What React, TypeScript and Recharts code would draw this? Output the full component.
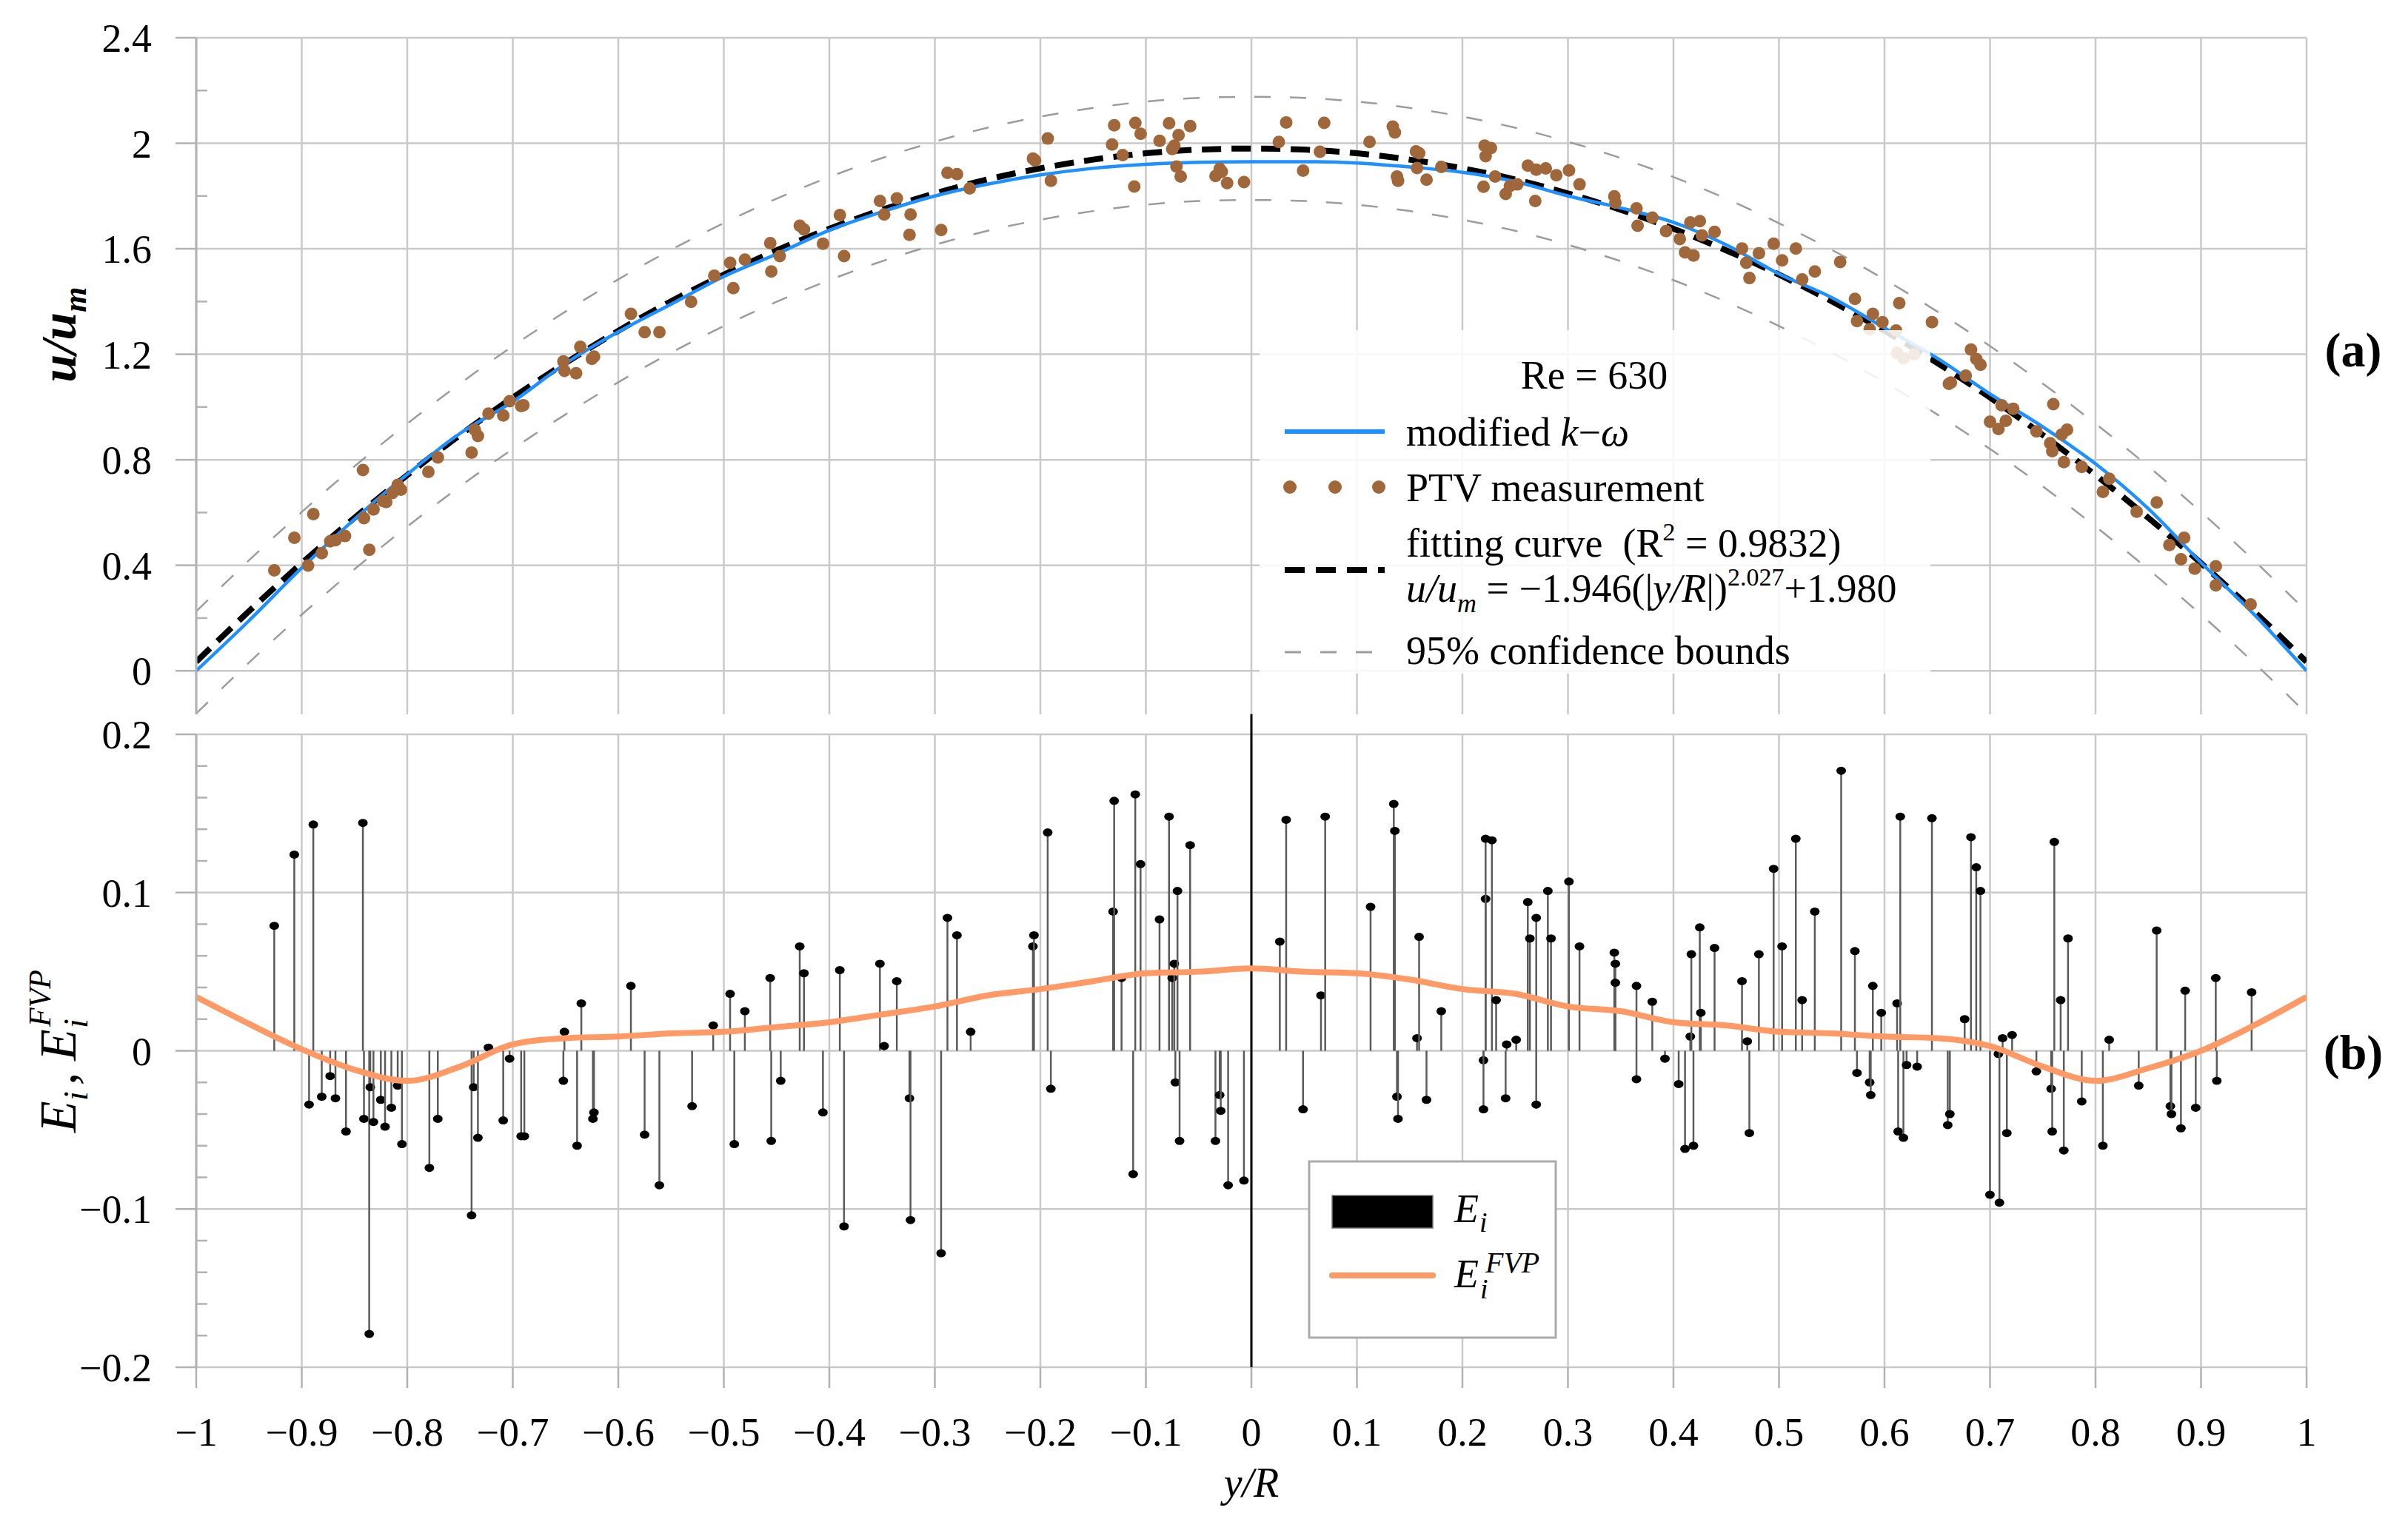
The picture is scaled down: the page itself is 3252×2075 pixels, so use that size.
import React from 'react';
import { ComposedChart, Line, Scatter, Bar, XAxis, YAxis, CartesianGrid, ReferenceLine } from 'recharts';

// page / font constants
const W = 3252;
const H = 2075;
const FONT = '"Liberation Serif", "Times New Roman", serif';
const GRID = '#c9c9c9';
const AXIS = '#b2b2b2';
const BLUE = '#1E90FF';
const BROWN = '#A0683A';
const ORANGE = '#FF9A66';

// x ticks shared by both panels
const xTicks = [-1, -0.9, -0.8, -0.7, -0.6, -0.5, -0.4, -0.3, -0.2, -0.1, 0, 0.1, 0.2, 0.3, 0.4, 0.5, 0.6, 0.7, 0.8, 0.9, 1];
const xTickLabels = ['−1', '−0.9', '−0.8', '−0.7', '−0.6', '−0.5', '−0.4', '−0.3', '−0.2', '−0.1', '0', '0.1', '0.2', '0.3', '0.4', '0.5', '0.6', '0.7', '0.8', '0.9', '1'];

// (a) y ticks
const topYTicks = [0, 0.2, 0.4, 0.6, 0.8, 1, 1.2, 1.4, 1.6, 1.8, 2, 2.2, 2.4];
const topYMajor = [0, 0.4, 0.8, 1.2, 1.6, 2, 2.4];
const topYLabels = ['0', '0.4', '0.8', '1.2', '1.6', '2', '2.4'];

// (b) y ticks
const botYTicks = [-0.2, -0.18, -0.16, -0.14, -0.12, -0.1, -0.08, -0.06, -0.04, -0.02, 0, 0.02, 0.04, 0.06, 0.08, 0.1, 0.12, 0.14, 0.16, 0.18, 0.2];
const botYMajor = [-0.2, -0.1, 0, 0.1, 0.2];
const botYLabels = ['−0.2', '−0.1', '0', '0.1', '0.2'];

// profile positions y/R
const profileX = [-1, -0.95, -0.9, -0.85, -0.8, -0.75, -0.7, -0.65, -0.6, -0.55, -0.5, -0.45, -0.4, -0.35, -0.3, -0.25, -0.2, -0.15, -0.1, -0.05, 0,
  0.05, 0.1, 0.15, 0.2, 0.25, 0.3, 0.35, 0.4, 0.45, 0.5, 0.55, 0.6, 0.65, 0.7, 0.75, 0.8, 0.85, 0.9, 0.95, 1];

// modified k-omega
const kOmega = [0, 0.19, 0.39, 0.575, 0.745, 0.9, 1.02, 1.165, 1.285, 1.39, 1.495, 1.58, 1.67, 1.74, 1.8, 1.845, 1.88, 1.905, 1.92, 1.928, 1.93,
  1.93, 1.925, 1.91, 1.89, 1.855, 1.8, 1.755, 1.7, 1.615, 1.505, 1.415, 1.3, 1.185, 1.05, 0.925, 0.785, 0.615, 0.41, 0.215, 0];

// fitting curve
const fitCurve = [0.034, 0.226, 0.408, 0.58, 0.742, 0.894, 1.036, 1.167, 1.289, 1.401, 1.502, 1.594, 1.676, 1.748, 1.81, 1.863, 1.905, 1.938, 1.962, 1.976, 1.98,
  1.976, 1.962, 1.938, 1.905, 1.863, 1.81, 1.748, 1.676, 1.594, 1.502, 1.401, 1.289, 1.167, 1.036, 0.894, 0.742, 0.58, 0.408, 0.226, 0.034];

// 95% confidence bounds
const upperBound = [0.225, 0.419, 0.602, 0.775, 0.937, 1.089, 1.231, 1.362, 1.484, 1.596, 1.697, 1.79, 1.872, 1.944, 2.006, 2.059, 2.101, 2.134, 2.158, 2.172, 2.176,
  2.172, 2.158, 2.134, 2.101, 2.059, 2.006, 1.944, 1.872, 1.79, 1.697, 1.596, 1.484, 1.362, 1.231, 1.089, 0.937, 0.775, 0.602, 0.419, 0.225];
const lowerBound = [-0.162, 0.031, 0.213, 0.385, 0.547, 0.699, 0.841, 0.972, 1.094, 1.206, 1.307, 1.399, 1.481, 1.553, 1.615, 1.668, 1.71, 1.743, 1.767, 1.781, 1.785,
  1.781, 1.767, 1.743, 1.71, 1.668, 1.615, 1.553, 1.481, 1.399, 1.307, 1.206, 1.094, 0.972, 0.841, 0.699, 0.547, 0.385, 0.213, 0.031, -0.162];

// E_i^FVP
const fvpCurve = [0.034, 0.017, 0.001, -0.012, -0.019, -0.01, 0.004, 0.008, 0.009, 0.011, 0.012, 0.015, 0.018, 0.023, 0.028, 0.035, 0.039, 0.044, 0.049, 0.05, 0.052,
  0.05, 0.049, 0.045, 0.039, 0.036, 0.028, 0.025, 0.018, 0.016, 0.012, 0.011, 0.009, 0.008, 0.003, -0.01, -0.019, -0.011, 0, 0.016, 0.034];

// PTV measurement [y/R, u/um]
const ptv: [number, number][] = [
  [-0.926, 0.381], [-0.907, 0.504], [-0.894, 0.399], [-0.889, 0.594], [-0.881, 0.446], [-0.873, 0.491], [-0.868, 0.495], [-0.859, 0.511],
  [-0.842, 0.761], [-0.841, 0.579], [-0.836, 0.459], [-0.832, 0.612], [-0.823, 0.644], [-0.82, 0.64], [-0.814, 0.674], [-0.809, 0.705],
  [-0.806, 0.687], [-0.78, 0.754], [-0.771, 0.809], [-0.739, 0.827], [-0.736, 0.914], [-0.733, 0.89], [-0.723, 0.975], [-0.709, 0.968],
  [-0.703, 1.022], [-0.692, 1.004], [-0.69, 1.007], [-0.652, 1.173], [-0.651, 1.137], [-0.64, 1.128], [-0.636, 1.228], [-0.625, 1.183],
  [-0.623, 1.191], [-0.588, 1.353], [-0.575, 1.284], [-0.561, 1.284], [-0.531, 1.399], [-0.509, 1.498], [-0.494, 1.547], [-0.491, 1.451],
  [-0.48, 1.559], [-0.456, 1.621], [-0.455, 1.514], [-0.447, 1.572], [-0.428, 1.687], [-0.424, 1.673], [-0.406, 1.619], [-0.39, 1.728],
  [-0.386, 1.572], [-0.352, 1.781], [-0.348, 1.73], [-0.336, 1.791], [-0.323, 1.73], [-0.324, 1.653], [-0.294, 1.671], [-0.288, 1.888],
  [-0.279, 1.883], [-0.267, 1.829], [-0.207, 1.942], [-0.205, 1.935], [-0.193, 2.018], [-0.19, 1.858], [-0.132, 1.995], [-0.13, 2.068],
  [-0.122, 1.955], [-0.111, 1.836], [-0.11, 2.077], [-0.105, 2.036], [-0.087, 2.009], [-0.078, 2.076], [-0.075, 1.978], [-0.073, 1.991],
  [-0.071, 1.912], [-0.069, 2.031], [-0.067, 1.874], [-0.058, 2.065], [-0.034, 1.876], [-0.03, 1.903], [-0.028, 1.892], [-0.023, 1.849],
  [-0.007, 1.853], [0.026, 2.005], [0.033, 2.079], [0.049, 1.896], [0.065, 1.968], [0.069, 2.077], [0.112, 2.005], [0.134, 2.063],
  [0.136, 2.041], [0.138, 1.874], [0.139, 1.858], [0.156, 1.969], [0.159, 1.962], [0.157, 1.906], [0.166, 1.862], [0.18, 1.91],
  [0.22, 1.835], [0.221, 1.991], [0.222, 1.951], [0.227, 1.982], [0.231, 1.874], [0.241, 1.808], [0.245, 1.838], [0.252, 1.844],
  [0.262, 1.915], [0.269, 1.781], [0.27, 1.9], [0.279, 1.905], [0.289, 1.879], [0.301, 1.897], [0.311, 1.844], [0.344, 1.799],
  [0.345, 1.775], [0.365, 1.753], [0.366, 1.687], [0.38, 1.718], [0.393, 1.667], [0.406, 1.637], [0.411, 1.586], [0.416, 1.7],
  [0.419, 1.574], [0.425, 1.705], [0.427, 1.651], [0.439, 1.664], [0.465, 1.601], [0.469, 1.547], [0.472, 1.489], [0.481, 1.583],
  [0.495, 1.619], [0.503, 1.556], [0.516, 1.601], [0.522, 1.484], [0.534, 1.514], [0.558, 1.55], [0.572, 1.41], [0.574, 1.326],
  [0.586, 1.295], [0.589, 1.353], [0.598, 1.322], [0.611, 1.29], [0.614, 1.394], [0.612, 1.205], [0.618, 1.185], [0.628, 1.2],
  [0.645, 1.322], [0.661, 1.088], [0.663, 1.093], [0.677, 1.119], [0.682, 1.218], [0.687, 1.182], [0.691, 1.16], [0.7, 0.944],
  [0.708, 0.917], [0.711, 1.007], [0.715, 0.948], [0.722, 0.993], [0.744, 0.908], [0.757, 0.863], [0.759, 0.833], [0.76, 1.011],
  [0.768, 0.896], [0.77, 0.791], [0.773, 0.914], [0.787, 0.773], [0.807, 0.678], [0.813, 0.728], [0.839, 0.603], [0.858, 0.638],
  [0.87, 0.477], [0.884, 0.504], [0.881, 0.423], [0.894, 0.387], [0.914, 0.396], [0.914, 0.324], [0.947, 0.252],
];

// E_i residuals [y/R, E_i]
const residuals: [number, number][] = [
  [-0.926, 0.079], [-0.907, 0.124], [-0.893, -0.034], [-0.889, 0.143], [-0.881, -0.029], [-0.873, -0.016], [-0.868, -0.03], [-0.858, -0.051],
  [-0.842, 0.144], [-0.841, -0.043], [-0.836, -0.179], [-0.835, -0.023], [-0.832, -0.045], [-0.825, -0.031], [-0.821, -0.048], [-0.815, -0.036],
  [-0.809, -0.022], [-0.805, -0.059], [-0.779, -0.074], [-0.771, -0.043], [-0.739, -0.104], [-0.737, -0.023], [-0.733, -0.055], [-0.723, 0.002],
  [-0.709, -0.044], [-0.703, -0.005], [-0.692, -0.054], [-0.689, -0.054], [-0.652, -0.019], [-0.651, 0.012], [-0.639, -0.06], [-0.635, 0.03],
  [-0.624, -0.043], [-0.623, -0.039], [-0.588, 0.041], [-0.575, -0.053], [-0.561, -0.085], [-0.53, -0.035], [-0.51, 0.016],
  [-0.494, 0.036], [-0.49, -0.059], [-0.48, 0.025], [-0.456, 0.046], [-0.455, -0.057], [-0.446, -0.019], [-0.428, 0.066], [-0.424, 0.049],
  [-0.406, -0.039], [-0.39, 0.051], [-0.386, -0.111], [-0.352, 0.055], [-0.348, 0.003], [-0.336, 0.044], [-0.324, -0.03], [-0.323, -0.107],
  [-0.294, -0.128], [-0.288, 0.084], [-0.279, 0.073], [-0.266, 0.012], [-0.207, 0.066], [-0.206, 0.073], [-0.193, 0.138], [-0.19, -0.024],
  [-0.131, 0.088], [-0.13, 0.158], [-0.123, 0.046], [-0.112, -0.078], [-0.11, 0.162], [-0.105, 0.118], [-0.087, 0.083], [-0.078, 0.148],
  [-0.075, 0.046], [-0.073, 0.055], [-0.072, -0.02], [-0.07, 0.101], [-0.068, -0.057], [-0.058, 0.13], [-0.034, -0.057], [-0.03, -0.028],
  [-0.029, -0.038], [-0.022, -0.085], [-0.007, -0.082],
  [0.027, 0.069], [0.033, 0.146], [0.049, -0.037], [0.066, 0.035], [0.07, 0.148], [0.113, 0.091], [0.135, 0.156], [0.136, 0.139],
  [0.138, -0.029], [0.139, -0.043], [0.157, 0.008], [0.159, 0.072], [0.166, -0.031], [0.18, 0.025], [0.22, -0.006], [0.22, -0.037],
  [0.222, 0.096], [0.222, 0.134], [0.228, 0.133], [0.232, 0.032], [0.241, -0.03], [0.242, 0.004], [0.251, 0.007], [0.262, 0.094],
  [0.264, 0.071], [0.27, 0.084], [0.27, -0.034], [0.281, 0.101], [0.284, 0.071], [0.301, 0.107], [0.311, 0.066], [0.344, 0.062],
  [0.345, 0.055], [0.345, 0.043], [0.365, 0.041], [0.365, -0.018], [0.38, 0.031], [0.392, -0.005], [0.405, -0.021], [0.411, -0.062],
  [0.416, 0.009], [0.417, 0.061], [0.419, -0.06], [0.425, 0.078], [0.426, 0.024], [0.439, 0.065], [0.465, 0.044], [0.47, 0.006],
  [0.472, -0.052], [0.481, 0.061], [0.495, 0.115],
  [0.503, 0.066], [0.516, 0.134], [0.522, 0.032], [0.534, 0.088], [0.559, 0.177], [0.572, 0.063], [0.574, -0.014], [0.586, -0.02],
  [0.587, -0.028], [0.589, 0.041], [0.597, 0.024], [0.612, 0.03], [0.613, -0.051], [0.615, 0.148], [0.618, -0.055], [0.621, -0.009],
  [0.631, -0.01], [0.645, 0.147], [0.66, -0.047], [0.662, -0.04], [0.676, 0.02], [0.682, 0.135], [0.687, 0.116], [0.691, 0.101],
  [0.7, -0.091], [0.708, -0.002], [0.709, -0.096], [0.712, 0.008], [0.716, -0.052], [0.721, 0.01], [0.744, -0.013], [0.758, -0.024],
  [0.759, -0.051], [0.761, 0.132], [0.767, 0.032], [0.77, -0.063], [0.774, 0.071], [0.787, -0.032], [0.807, -0.06], [0.813, 0.007],
  [0.841, -0.022], [0.858, 0.076], [0.871, -0.035], [0.872, -0.04], [0.881, -0.049], [0.885, 0.038], [0.895, -0.036], [0.914, 0.046],
  [0.915, -0.019], [0.948, 0.037],
];

const toRows = (vals: number[]) => profileX.map((x, i) => ({ x, u: vals[i] }));
const kOmegaRows = toRows(kOmega);
const fitRows = toRows(fitCurve);
const upperRows = toRows(upperBound);
const lowerRows = toRows(lowerBound);
const fvpRows = profileX.map((x, i) => ({ x, f: fvpCurve[i] }));
const ptvRows = ptv.map(([x, u]) => ({ x, u }));
const residualRows = residuals.map(([x, e]) => ({ x, e }));

const near = (list: number[], v: number) => list.findIndex((m) => Math.abs(m - v) < 1e-9);

// y tick: labelled outward tick for majors, short inward tick for minors
const makeYTick = (majors: number[], labels: string[]) => (props: any) => {
  const { x, y, payload } = props;
  const idx = near(majors, payload.value);
  if (idx < 0) {
    return <line x1={x} x2={x + 15} y1={y} y2={y} stroke={AXIS} strokeWidth={2.5} />;
  }
  return (
    <g>
      <line x1={x - 28} x2={x} y1={y} y2={y} stroke={AXIS} strokeWidth={2.5} />
      <text x={x - 60} y={y + 19} textAnchor="end" fontFamily={FONT} fontSize={54} fill="#000">
        {labels[idx]}
      </text>
    </g>
  );
};

const XTick = (props: any) => {
  const { x, y, payload } = props;
  const idx = near(xTicks, payload.value);
  return (
    <g>
      <line x1={x} x2={x} y1={y} y2={y + 28} stroke={AXIS} strokeWidth={2.5} />
      <text x={x} y={y + 106} textAnchor="middle" fontFamily={FONT} fontSize={54} fill="#000">
        {idx >= 0 ? xTickLabels[idx] : ''}
      </text>
    </g>
  );
};

// stem from zero to E_i with a dot at the end
const StemShape = (props: any) => {
  const { x, y, width, height, payload } = props;
  if (x == null || y == null) return null;
  const cx = x + (width || 0) / 2;
  const y1 = Math.min(y, y + height);
  const y2 = Math.max(y, y + height);
  const dotY = payload.e >= 0 ? y1 : y2;
  return (
    <g>
      <line x1={cx} x2={cx} y1={y1} y2={y2} stroke="#5a5a5a" strokeWidth={2.5} />
      <ellipse cx={cx} cy={dotY} rx={6.5} ry={5.5} fill="#000" />
    </g>
  );
};

const PtvDot = (props: any) => <circle cx={props.cx} cy={props.cy} r={8.5} fill={BROWN} />;

const abs: React.CSSProperties = { position: 'absolute', left: 0, top: 0 };

const TopPanel = () => (
  <div style={abs}>
    <ComposedChart width={W} height={1000} margin={{ top: 51, right: 137, bottom: 35, left: 0 }}>
      <CartesianGrid stroke={GRID} strokeWidth={2.5} verticalValues={xTicks} horizontalValues={topYMajor} />
      <XAxis type="number" dataKey="x" domain={[-1, 1]} ticks={xTicks} hide allowDataOverflow />
      <YAxis
        type="number"
        width={265}
        domain={[-0.165, 2.4]}
        ticks={topYTicks}
        interval={0}
        allowDataOverflow
        tickSize={0}
        tickMargin={0}
        tickLine={false}
        axisLine={{ stroke: AXIS, strokeWidth: 3 }}
        tick={makeYTick(topYMajor, topYLabels)}
      />
      <Line data={upperRows} dataKey="u" type="monotone" stroke="#9c9c9c" strokeWidth={2.5} strokeDasharray="22 26" dot={false} isAnimationActive={false} />
      <Line data={lowerRows} dataKey="u" type="monotone" stroke="#9c9c9c" strokeWidth={2.5} strokeDasharray="22 26" dot={false} isAnimationActive={false} />
      <Scatter data={ptvRows} dataKey="u" fill={BROWN} shape={PtvDot} isAnimationActive={false} />
      <Line data={fitRows} dataKey="u" type="monotone" stroke="#000" strokeWidth={8} strokeDasharray="26 14" dot={false} isAnimationActive={false} />
      <Line data={kOmegaRows} dataKey="u" type="monotone" stroke={BLUE} strokeWidth={4.5} dot={false} isAnimationActive={false} />
    </ComposedChart>
  </div>
);

const BottomPanel = () => (
  <div style={abs}>
    <ComposedChart width={W} height={H} data={residualRows} margin={{ top: 992, right: 137, bottom: 0, left: 0 }}>
      <CartesianGrid stroke={GRID} strokeWidth={2.5} verticalValues={xTicks} horizontalValues={botYMajor} />
      <XAxis
        type="number"
        dataKey="x"
        domain={[-1, 1]}
        ticks={xTicks}
        interval={0}
        height={228}
        allowDataOverflow
        tickSize={0}
        tickMargin={0}
        tickLine={false}
        axisLine={false}
        tick={XTick}
      />
      <YAxis
        type="number"
        width={265}
        domain={[-0.2, 0.2]}
        ticks={botYTicks}
        interval={0}
        allowDataOverflow
        tickSize={0}
        tickMargin={0}
        tickLine={false}
        axisLine={{ stroke: AXIS, strokeWidth: 3 }}
        tick={makeYTick(botYMajor, botYLabels)}
      />
      <ReferenceLine segment={[{ x: 0, y: -0.2 }, { x: 0, y: 0.2127 }]} stroke="#000" strokeWidth={3} ifOverflow="visible" />
      <Bar dataKey="e" barSize={3} fill="#000" shape={StemShape} isAnimationActive={false} />
      <Line data={fvpRows} dataKey="f" type="monotone" stroke={ORANGE} strokeWidth={8} dot={false} isAnimationActive={false} />
    </ComposedChart>
  </div>
);

const T = (p: any) => <text fontFamily={FONT} fill="#000" {...p} />;

const Annotations = () => (
  <svg width={W} height={H} style={{ ...abs, pointerEvents: 'none' }}>
    {/* legend (a) */}
    <rect x={1701} y={446} width={906} height={464} fill="#fff" fillOpacity={0.86} />
    <T x={2153} y={525} fontSize={54} textAnchor="middle">Re = 630</T>
    <line x1={1735} x2={1870} y1={583} y2={583} stroke={BLUE} strokeWidth={6} />
    <T x={1899} y={602} fontSize={54}>
      modified <tspan fontStyle="italic">k</tspan>−<tspan fontStyle="italic">ω</tspan>
    </T>
    <circle cx={1742} cy={658} r={9} fill={BROWN} />
    <circle cx={1803} cy={658} r={9} fill={BROWN} />
    <circle cx={1862} cy={658} r={9} fill={BROWN} />
    <T x={1899} y={677} fontSize={54}>PTV measurement</T>
    <T x={1899} y={752} fontSize={54} style={{ whiteSpace: 'pre' }}>
      {'fitting curve  (R'}
      <tspan fontSize={34} dy={-22}>2</tspan>
      <tspan dy={22}>{' = 0.9832)'}</tspan>
    </T>
    <line x1={1735} x2={1870} y1={770} y2={770} stroke="#000" strokeWidth={8} strokeDasharray="27 15" />
    <T x={1899} y={813} fontSize={54} style={{ whiteSpace: 'pre' }}>
      <tspan fontStyle="italic">u/u</tspan>
      <tspan fontStyle="italic" fontSize={36} dy={14}>m</tspan>
      <tspan dy={-14}>{' = −1.946(|'}</tspan>
      <tspan fontStyle="italic">y/R</tspan>
      <tspan>|)</tspan>
      <tspan fontSize={34} dy={-22}>2.027</tspan>
      <tspan dy={22}>+1.980</tspan>
    </T>
    <line x1={1735} x2={1870} y1={881} y2={881} stroke="#9c9c9c" strokeWidth={3} strokeDasharray="22 26" />
    <T x={1899} y={897} fontSize={54}>95% confidence bounds</T>

    {/* legend (b) */}
    <rect x={1768} y={1569} width={333} height={238} fill="#fff" stroke="#ababab" strokeWidth={3} />
    <rect x={1799} y={1615} width={136} height={44} fill="#000" stroke="#777" strokeWidth={1.5} />
    <T x={1964} y={1651} fontSize={54} fontStyle="italic">E</T>
    <T x={1998} y={1664} fontSize={38} fontStyle="italic">i</T>
    <line x1={1799} x2={1935} y1={1723} y2={1723} stroke={ORANGE} strokeWidth={8} strokeLinecap="round" />
    <T x={1964} y={1739} fontSize={54} fontStyle="italic">E</T>
    <T x={1999} y={1754} fontSize={38} fontStyle="italic">i</T>
    <T x={2006} y={1719} fontSize={40} fontStyle="italic">FVP</T>

    {/* axis titles */}
    <T x={102} y={452} fontSize={68} fontWeight="bold" fontStyle="italic" textAnchor="middle" transform="rotate(-90 102 452)">
      u/u<tspan fontSize={44} dy={14}>m</tspan>
    </T>
    <g transform="translate(102 1530) rotate(-90)">
      <T x={0} y={0} fontSize={70} fontStyle="italic">E</T>
      <T x={43} y={16} fontSize={46} fontStyle="italic">i</T>
      <T x={64} y={0} fontSize={70} fontStyle="italic">,</T>
      <T x={97} y={0} fontSize={70} fontStyle="italic">E</T>
      <T x={141} y={16} fontSize={46} fontStyle="italic">i</T>
      <T x={143} y={-34} fontSize={42} fontStyle="italic">FVP</T>
    </g>
    <T x={1690} y={2022} fontSize={56} fontStyle="italic" textAnchor="middle">y/R</T>
    <T x={3178} y={495} fontSize={66} fontWeight="bold" textAnchor="middle">(a)</T>
    <T x={3178} y={1444} fontSize={66} fontWeight="bold" textAnchor="middle">(b)</T>
  </svg>
);

export default function App() {
  return (
    <div style={{ position: 'absolute', left: 0, top: 0, width: W, height: H, background: '#fff', overflow: 'hidden' }}>
      <TopPanel />
      <BottomPanel />
      <Annotations />
    </div>
  );
}
